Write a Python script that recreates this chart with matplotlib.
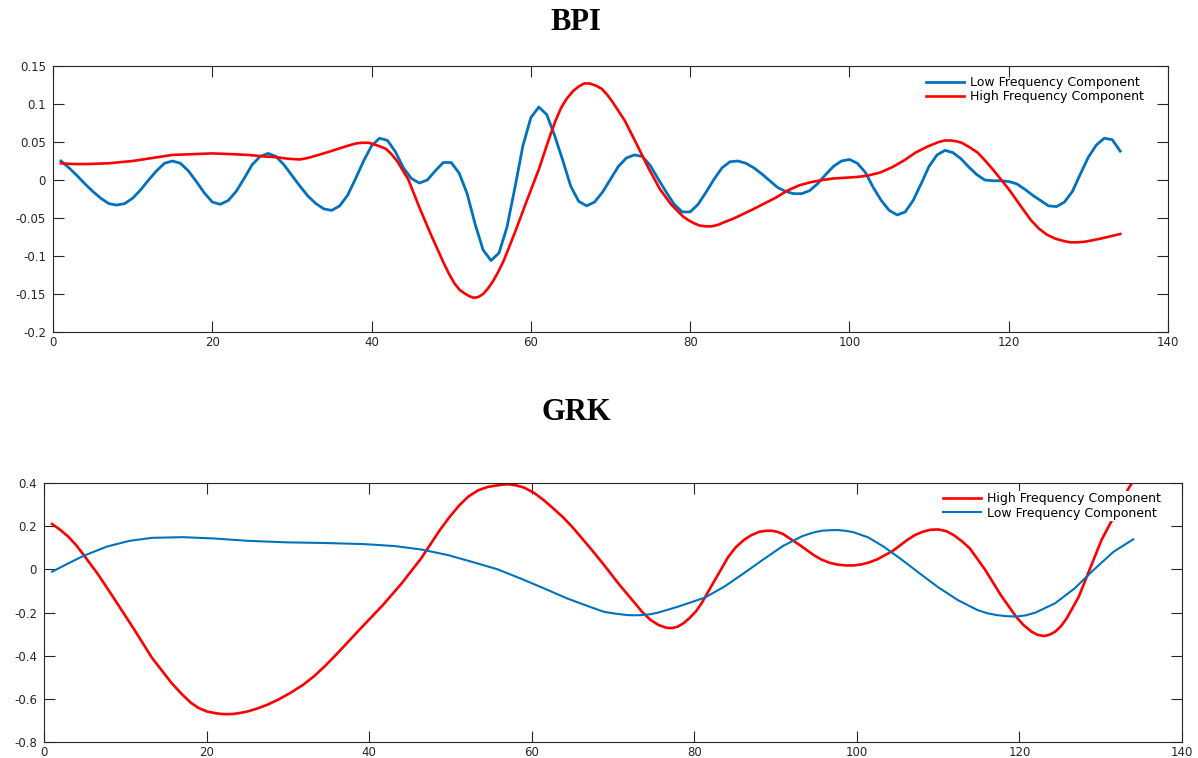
import matplotlib
matplotlib.use("Agg")
import matplotlib.pyplot as plt
import numpy as np

plt.rcParams['font.family'] = ['DejaVu Sans']
plt.rcParams['axes.unicode_minus'] = False

# ---- BPI panel ----
bpi_x = list(range(1, 135))
bpi_low = [
    0.025, 0.016, 0.006, -0.005, -0.015, -0.024, -0.031, -0.033, -0.031, -0.024,
    -0.013, 0.000, 0.012, 0.022, 0.025, 0.022, 0.012, -0.002, -0.017, -0.029,
    -0.032, -0.027, -0.015, 0.002, 0.020, 0.031, 0.035, 0.031, 0.020, 0.006,
    -0.008, -0.021, -0.031, -0.038, -0.040, -0.034, -0.020, 0.002, 0.025, 0.045,
    0.055, 0.052, 0.037, 0.016, 0.002, -0.004, 0.000, 0.012, 0.023, 0.023,
    0.009, -0.018, -0.058, -0.092, -0.106, -0.096, -0.062, -0.010, 0.045, 0.082,
    0.096, 0.086, 0.058, 0.026, -0.008, -0.028, -0.034, -0.029, -0.016, 0.001,
    0.018, 0.029, 0.033, 0.031, 0.019, 0.001, -0.016, -0.032, -0.042, -0.042,
    -0.032, -0.016, 0.001, 0.016, 0.024, 0.025, 0.022, 0.016, 0.008, -0.001,
    -0.010, -0.015, -0.018, -0.018, -0.014, -0.005, 0.007, 0.018, 0.025, 0.027,
    0.022, 0.010, -0.010, -0.027, -0.040, -0.046, -0.042, -0.027, -0.005, 0.018,
    0.033, 0.039, 0.036, 0.028, 0.017, 0.007, 0.000, -0.001, -0.001, -0.002,
    -0.005, -0.012, -0.020, -0.027, -0.034, -0.035, -0.029, -0.015, 0.008, 0.030,
    0.046, 0.055, 0.053, 0.038]

bpi_high_x = [1, 2.5, 4.3, 7, 10, 12.5, 15, 17.5, 20, 22.5, 24.5, 26.5, 28, 29.5, 31,
              32, 33, 34.3, 35.5, 37, 38, 38.8, 39.6, 40.3, 41.1, 41.8, 42.5, 43.2,
              44.6, 46, 47.5, 49, 49.7, 50.4, 51.1, 51.8, 52.3, 52.8, 53.4, 54, 54.6,
              55.2, 55.9, 56.6, 58, 59.5, 61, 62.4, 63.1, 63.8, 64.5, 65.3, 66, 66.7,
              67.4, 68.2, 68.9, 69.6, 70.3, 71.8, 73.2, 74.7, 76.2, 77.6, 79.1, 79.8,
              80.5, 81.2, 82, 82.7, 83.5, 84.4, 85.4, 87.8, 90.8, 92.2, 93.7, 95.1,
              96.6, 98, 99.5, 101, 102.4, 103.9, 105.4, 106.9, 108.3, 109.8, 111.2,
              112, 112.7, 113.4, 114.1, 115.1, 116.1, 117, 118, 120, 121.9, 122.8,
              123.8, 124.8, 125.8, 126.8, 127.7, 128.7, 129.7, 131.6, 134]
bpi_high = [0.022, 0.021, 0.021, 0.022, 0.025, 0.029, 0.033, 0.034, 0.035, 0.034,
            0.033, 0.031, 0.030, 0.028, 0.027, 0.029, 0.032, 0.036, 0.040, 0.045,
            0.048, 0.049, 0.049, 0.047, 0.044, 0.041, 0.034, 0.025, 0.001, -0.036,
            -0.073, -0.108, -0.123, -0.136, -0.145, -0.150, -0.153, -0.155, -0.154,
            -0.150, -0.143, -0.134, -0.121, -0.106, -0.069, -0.027, 0.014, 0.058,
            0.078, 0.095, 0.107, 0.117, 0.123, 0.127, 0.127, 0.124, 0.120, 0.112,
            0.102, 0.078, 0.049, 0.017, -0.012, -0.032, -0.048, -0.053, -0.057,
            -0.060, -0.061, -0.061, -0.059, -0.055, -0.051, -0.039, -0.023, -0.014,
            -0.007, -0.003, 0.000, 0.002, 0.003, 0.004, 0.006, 0.010, 0.017, 0.026,
            0.036, 0.044, 0.050, 0.052, 0.052, 0.051, 0.049, 0.043, 0.036, 0.026,
            0.014, -0.012, -0.040, -0.053, -0.064, -0.072, -0.077, -0.080, -0.082,
            -0.082, -0.081, -0.077, -0.071]

# ---- GRK panel ----
grk_high_x = [1, 2, 3, 4, 4.9, 6.7, 8.6, 11, 13.3, 15.7, 17, 18.1, 19, 20, 21, 21.8,
              22.5, 23.3, 24.2, 25.1, 26.3, 27.5, 28.9, 30.3, 31.8, 33.2, 34.6, 36,
              38.8, 41.7, 44, 46.4, 48.7, 49.9, 51.1, 52.2, 53.4, 54.6, 55.8, 56.5,
              57.2, 58.1, 59.1, 60.3, 61.5, 62.6, 63.8, 65, 66.2, 67.5, 68.9, 70.8,
              72.7, 73.6, 74.6, 75.6, 76.6, 77.3, 78, 78.7, 79.4, 80.2, 80.9, 82.3,
              84.2, 85.1, 86.1, 87, 88, 88.7, 89.5, 90.2, 90.9, 92.8, 94.7, 95.6,
              96.6, 97.6, 98.7, 99.6, 100.6, 101.5, 102.5, 104.4, 106.2, 107.1,
              108.1, 109, 110, 111, 111.9, 112.9, 113.9, 115.8, 117.7, 119.6, 120.5,
              121.5, 122.2, 123, 123.7, 124.4, 125.1, 125.8, 127.3, 128.7, 130.1,
              131.6, 133.3, 134]
grk_high = [0.210, 0.183, 0.151, 0.110, 0.066, -0.026, -0.134, -0.273, -0.411,
            -0.527, -0.580, -0.619, -0.642, -0.658, -0.666, -0.670, -0.671, -0.670,
            -0.665, -0.658, -0.644, -0.627, -0.602, -0.573, -0.537, -0.496, -0.447,
            -0.393, -0.280, -0.165, -0.065, 0.051, 0.182, 0.243, 0.297, 0.337,
            0.366, 0.382, 0.389, 0.393, 0.394, 0.389, 0.378, 0.354, 0.320, 0.284,
            0.243, 0.196, 0.143, 0.085, 0.020, -0.072, -0.157, -0.198, -0.234,
            -0.258, -0.271, -0.272, -0.265, -0.249, -0.226, -0.195, -0.157, -0.065,
            0.059, 0.102, 0.136, 0.158, 0.174, 0.178, 0.179, 0.174, 0.164, 0.117,
            0.066, 0.046, 0.031, 0.022, 0.018, 0.018, 0.023, 0.032, 0.046, 0.085,
            0.136, 0.158, 0.174, 0.183, 0.185, 0.177, 0.159, 0.131, 0.097, -0.003,
            -0.119, -0.220, -0.258, -0.289, -0.303, -0.309, -0.303, -0.289, -0.264,
            -0.228, -0.127, 0.005, 0.136, 0.243, 0.367, 0.41]

grk_low_x = [1, 3, 4.9, 7.7, 10.5, 13.3, 17.1, 20.9, 25.1, 29.9, 34.6, 39.3, 43.1,
             46.4, 49.7, 53, 55.8, 58.6, 61.5, 64.3, 67.1, 68.9, 70.4, 71.8, 72.7,
             73.6, 74.6, 75.6, 78, 81.3, 83.7, 86.1, 88.5, 90.9, 93.3, 94.5, 95.7,
             96.6, 97.6, 98.5, 99.5, 101.4, 103.3, 105.3, 107.7, 110, 112.4, 114.8,
             116, 117.2, 118.4, 119.6, 120.8, 122, 124.4, 126.8, 129.2, 131.6, 134]
grk_low = [-0.011, 0.028, 0.063, 0.105, 0.132, 0.146, 0.149, 0.143, 0.132, 0.125,
           0.122, 0.117, 0.108, 0.092, 0.066, 0.031, 0.000, -0.042, -0.088, -0.134,
           -0.173, -0.197, -0.206, -0.212, -0.213, -0.212, -0.208, -0.200, -0.173,
           -0.131, -0.080, -0.018, 0.046, 0.108, 0.154, 0.169, 0.179, 0.181, 0.182,
           0.179, 0.173, 0.148, 0.105, 0.051, -0.018, -0.083, -0.142, -0.188,
           -0.203, -0.212, -0.217, -0.219, -0.213, -0.200, -0.157, -0.088, 0.000,
           0.082, 0.139]

BLUE = '#0072BD'
RED = '#FF0000'
DARK = '#262626'

W, H = 1198, 758
fig = plt.figure(figsize=(W / 100, H / 100), dpi=100)


def style_axes(ax, ylim, yticks):
    ax.set_xlim(0, 140)
    ax.set_ylim(*ylim)
    ax.set_xticks(np.arange(0, 141, 20))
    ax.set_yticks(yticks)
    ax.set_yticklabels(['{:g}'.format(round(t, 3)) for t in yticks])
    ax.tick_params(direction='in', length=8, width=0.8, top=True, right=True,
                   labelsize=8.5, colors=DARK, pad=5)
    ax.tick_params(axis='x', pad=3)
    for s in ax.spines.values():
        s.set_color(DARK)
        s.set_linewidth(0.8)


# top panel: x 53..1168, y 66..332
ax1 = fig.add_axes([53 / W, 1 - 332 / H, 1115 / W, 266 / H])
ax1.plot(bpi_x, bpi_low, color=BLUE, lw=2.0, label='Low Frequency Component')
ax1.plot(bpi_high_x, bpi_high, color=RED, lw=1.9, label='High Frequency Component')
style_axes(ax1, (-0.2, 0.15), [-0.2, -0.15, -0.1, -0.05, 0, 0.05, 0.1, 0.15])
ax1.legend(loc='upper right', bbox_to_anchor=(1 - 24 / 1115, 1 - 10 / 266),
           frameon=False, fontsize=9, handlelength=3.0, handletextpad=0.5,
           labelspacing=0.1, borderaxespad=0, borderpad=0)

# bottom panel: x 44..1182, y 483..742
ax2 = fig.add_axes([44 / W, 1 - 742 / H, 1138 / W, 259 / H])
ax2.plot(grk_high_x, grk_high, color=RED, lw=1.9, label='High Frequency Component')
ax2.plot(grk_low_x, grk_low, color=BLUE, lw=1.5, label='Low Frequency Component')
style_axes(ax2, (-0.8, 0.4), [-0.8, -0.6, -0.4, -0.2, 0, 0.2, 0.4])
leg = ax2.legend(loc='upper right', bbox_to_anchor=(1 - 20 / 1138, 1 - 8 / 259),
                 frameon=True, fontsize=9, handlelength=3.0, handletextpad=0.5,
                 labelspacing=0.1, borderaxespad=0, borderpad=0.1, fancybox=False)
leg.get_frame().set_facecolor('white')
leg.get_frame().set_edgecolor('none')
leg.get_frame().set_alpha(1)

fig.text(576 / W, 1 - 22 / H, 'BPI', ha='center', va='center',
         family='Liberation Serif', weight='bold', fontsize=22, color='black')
fig.text(576 / W, 1 - 413 / H, 'GRK', ha='center', va='center',
         family='Liberation Serif', weight='bold', fontsize=22, color='black')

fig.savefig('out.png', dpi=100)
